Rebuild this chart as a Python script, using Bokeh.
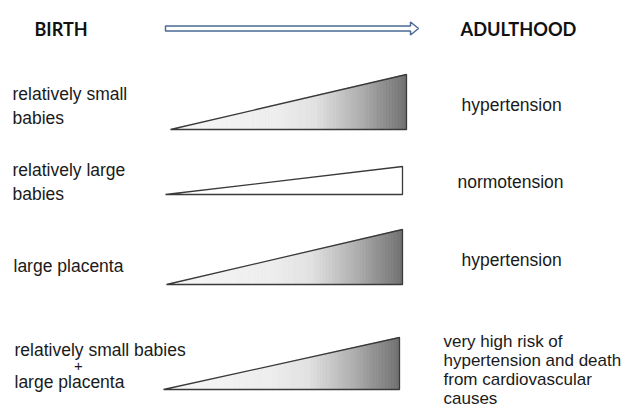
import numpy as np
from bokeh.plotting import figure
from bokeh.models import Range1d
from bokeh.core.properties import value
from bokeh.embed import file_html
from bokeh.resources import INLINE

# ---------------- data ----------------
header_left = "BIRTH"
header_right = "ADULTHOOD"
exposures = ["relatively small\nbabies",
             "relatively large\nbabies",
             "large placenta",
             "relatively small babies\n+\nlarge placenta"]
outcomes = ["hypertension",
            "normotension",
            "hypertension",
            "very high risk of\nhypertension and death\nfrom cardiovascular\ncauses"]
risk_height = [55, 28, 55, 52]          # relative size of each wedge
shaded = [True, False, True, True]

# ---------------- layout ----------------
W, H = 627, 412
row_base = [129, 194, 284, 389]
tri_left = [170, 165, 166, 163]
tri_right = [406, 402, 402, 399]
label_x = [12, 12, 13, 14]
label_y0 = [93, 169, 265, 349]
label_step = [24, 24, 24, 16]
out_x = [461, 457, 461, 443]
out_y0 = [104, 181, 259, 341]
out_step = [0, 0, 0, 19]
out_fs = ["17.5px", "17.5px", "17.5px", "17px"]
arrow_x0, arrow_x1, arrow_tip, arrow_y = 165, 410, 418, 28
shaft_half, head_half = 2.6, 6.5

FONT = value("Liberation Sans")
FS = "17.5px"
TXT = "#1a1a1a"

p = figure(width=W, height=H, x_range=Range1d(0, W), y_range=Range1d(H, 0),
           output_backend="svg", toolbar_location=None, min_border=0,
           x_axis_location=None, y_axis_location=None)
p.grid.visible = False
p.outline_line_color = None
p.background_fill_color = "white"
p.border_fill_color = "white"

# headers
p.text(x=[34], y=[28], text=[header_left], text_font=value("Lato"), text_font_style="bold",
       text_font_size="18px", text_baseline="middle", text_color="#111111")
p.text(x=[460], y=[28], text=[header_right], text_font=value("Lato"), text_font_style="bold",
       text_font_size="18.2px", text_baseline="middle", text_color="#111111")

# arrow
ax = [arrow_x0, arrow_x1, arrow_x1, arrow_tip, arrow_x1, arrow_x1, arrow_x0]
ay = [arrow_y - shaft_half, arrow_y - shaft_half, arrow_y - head_half, arrow_y,
      arrow_y + head_half, arrow_y + shaft_half, arrow_y + shaft_half]
p.patch(ax, ay, fill_color="white", line_color="#4a6b95", line_width=1.5)

# gradient helper
stops_t = [0.0, 0.45, 0.62, 0.8, 1.0]
stops_g = [0.97, 0.93, 0.88, 0.69, 0.44]


def gray(t):
    g = np.interp(t, stops_t, stops_g)
    v = int(round(g * 255))
    return "#%02x%02x%02x" % (v, v, v)


N = 160
for i in range(len(exposures)):
    x0, x1, base, h = tri_left[i], tri_right[i], row_base[i], risk_height[i]
    if shaded[i]:
        edges = np.linspace(x0, x1, N + 1)
        top = lambda x: base - h * (x - x0) / (x1 - x0)
        xs, ys, cols = [], [], []
        for k in range(N):
            a, b = edges[k], edges[k + 1]
            xs.append([a, b, b, a])
            ys.append([base, base, top(b), top(a)])
            cols.append(gray((k + 0.5) / N))
        p.patches(xs, ys, fill_color=cols, line_color=cols, line_width=0.8)
        fill = None
    else:
        fill = "white"
    p.patch([x0, x1, x1], [base, base, base - h], fill_color=fill, fill_alpha=1.0 if fill else 0.0,
            line_color="#3a3a3a", line_width=1.3)

    # left labels
    for j, line in enumerate(exposures[i].split("\n")):
        if line == "+":
            p.text(x=[label_x[i] + 64], y=[label_y0[i] + j * label_step[i]], text=[line],
                   text_font=FONT, text_font_size="15px", text_baseline="middle",
                   text_align="center", text_color=TXT)
        else:
            p.text(x=[label_x[i]], y=[label_y0[i] + j * label_step[i]], text=[line],
                   text_font=FONT, text_font_size=FS, text_baseline="middle", text_color=TXT)
    # right labels
    for j, line in enumerate(outcomes[i].split("\n")):
        p.text(x=[out_x[i]], y=[out_y0[i] + j * out_step[i]], text=[line],
               text_font=FONT, text_font_size=out_fs[i], text_baseline="middle", text_color=TXT)

open("out.html", "w").write(file_html(p, INLINE))
